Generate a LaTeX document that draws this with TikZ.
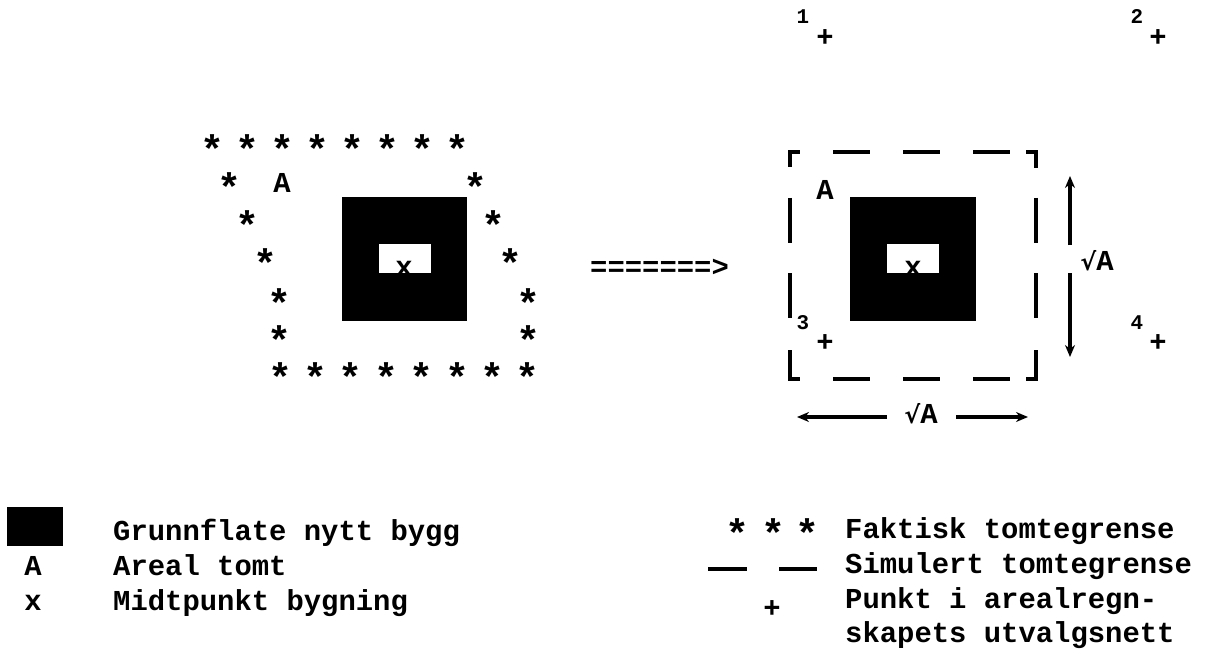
\documentclass[tikz,border=0pt]{standalone}
\usepackage{fontspec}
\setmonofont{Liberation Mono}
\newfontfamily\djv{DejaVu Sans}
\usetikzlibrary{arrows.meta}
\begin{document}
\begin{tikzpicture}[x=1bp,y=-1bp,
  tt/.style={font=\ttfamily\bfseries\fontsize{29}{34}\selectfont,inner sep=0pt,anchor=base},
  ttl/.style={tt,anchor=base west},
  astk/.style={font=\ttfamily\bfseries\fontsize{40}{44}\selectfont,inner sep=0pt,anchor=base,yshift=-19bp},
  plus/.style={tt,yshift=-10bp},
  capc/.style={tt,yshift=-9.5bp},
  num/.style={font=\ttfamily\bfseries\fontsize{21}{24}\selectfont,inner sep=0pt,anchor=base,yshift=-7bp},
  seg/.style={line width=3.5bp},
  arr/.style={line width=3.5bp,-{Stealth[length=12bp,width=10bp]}},
  sq/.style={font=\ttfamily\bfseries\fontsize{29}{34}\selectfont,inner sep=0pt,anchor=base}
]
\useasboundingbox[fill=white] (0,0) rectangle (1211,660);

% ---------- left: actual plot boundary ----------
\foreach \i in {0,...,7} {
  \node[astk] (t\i) at ({212+35.1*\i},145) {*};
  \node[astk] (b\i) at ({280+35.4*\i},372) {*};
}
\foreach \n/\xl/\xr/\yy in {1/229/475/183, 2/247/493/220, 3/265/510/258, 4/279/528/298, 5/279/528/335} {
  \node[astk] (l\n) at (\xl,\yy) {*};
  \node[astk] (r\n) at (\xr,\yy) {*};
}
\node[capc] (Aleft) at (282,183) {A};
\fill[black] (342,197) rectangle (467,321);
\fill[white] (379,244) rectangle (431,273);
\node[tt] (xleft) at (404,276) {x};

% ---------- transformation arrow ----------
\node[ttl] (trans) at (590,276) {=======>};

% ---------- right: simulated plot boundary ----------
\draw[seg] (790,167) -- (790,152) -- (800,152);
\draw[seg] (1026,152) -- (1036,152) -- (1036,168);
\draw[seg] (790,350) -- (790,379) -- (800,379);
\draw[seg] (1026,379) -- (1036,379) -- (1036,350);
\foreach \a/\b in {833/870, 903/940, 973/1010} {
  \draw[seg] (\a,152) -- (\b,152);
  \draw[seg] (\a,379) -- (\b,379);
}
\foreach \a/\b in {198/243, 273/318} {
  \draw[seg] (790,\a) -- (790,\b);
  \draw[seg] (1036,\a) -- (1036,\b);
}
\node[capc] (Aright) at (825,190) {A};
\fill[black] (850,197) rectangle (976,321);
\fill[white] (887,244) rectangle (939,273);
\node[tt] (xright) at (913,276) {x};

% sample points
\node[num] (n1) at (803,17) {1};
\node[plus] (p1) at (825,37) {+};
\node[num] (n2) at (1137,17) {2};
\node[plus] (p2) at (1158,37) {+};
\node[num] (n3) at (803,322) {3};
\node[plus] (p3) at (825,341) {+};
\node[num] (n4) at (1137,322) {4};
\node[plus] (p4) at (1158,341) {+};

% dimension arrows
\node[sq] (sqv) at (1097,270) {{\djv\bfseries\fontsize{24}{28}\selectfont √}A};
\coordinate (vt0) at (1070,245);
\coordinate (vt1) at (1070,176);
\coordinate (vb0) at (1070,273);
\coordinate (vb1) at (1070,357);
\draw[arr] (vt0) -- (vt1);
\draw[arr] (vb0) -- (vb1);

\node[sq] (sqh) at (921,423) {{\djv\bfseries\fontsize{24}{28}\selectfont √}A};
\coordinate (hl0) at (887,417);
\coordinate (hl1) at (797,417);
\coordinate (hr0) at (956,417);
\coordinate (hr1) at (1028,417);
\draw[arr] (hl0) -- (hl1);
\draw[arr] (hr0) -- (hr1);

% ---------- legend ----------
\fill[black] (7,507) rectangle (63,546);
\node[ttl] (lg1) at (113,540) {Grunnflate nytt bygg};
\node[tt] (lgA) at (33,575) {A};
\node[ttl] (lg2) at (113,575) {Areal tomt};
\node[tt] (lgx) at (33,610) {x};
\node[ttl] (lg3) at (113,610) {Midtpunkt bygning};

\node[astk] (ls1) at (737,528) {*};
\node[astk] (ls2) at (773,528) {*};
\node[astk] (ls3) at (807,528) {*};
\node[ttl] (lr1) at (845,538) {Faktisk tomtegrense};
\draw[seg] (708,569) -- (747,569);
\draw[seg] (779,569) -- (817,569);
\node[ttl] (lr2) at (845,573) {Simulert tomtegrense};
\node[plus] (lp) at (772,607) {+};
\node[ttl] (lr3) at (845,608) {Punkt i arealregn-};
\node[ttl] (lr4) at (845,642) {skapets utvalgsnett};
\end{tikzpicture}
\end{document}
